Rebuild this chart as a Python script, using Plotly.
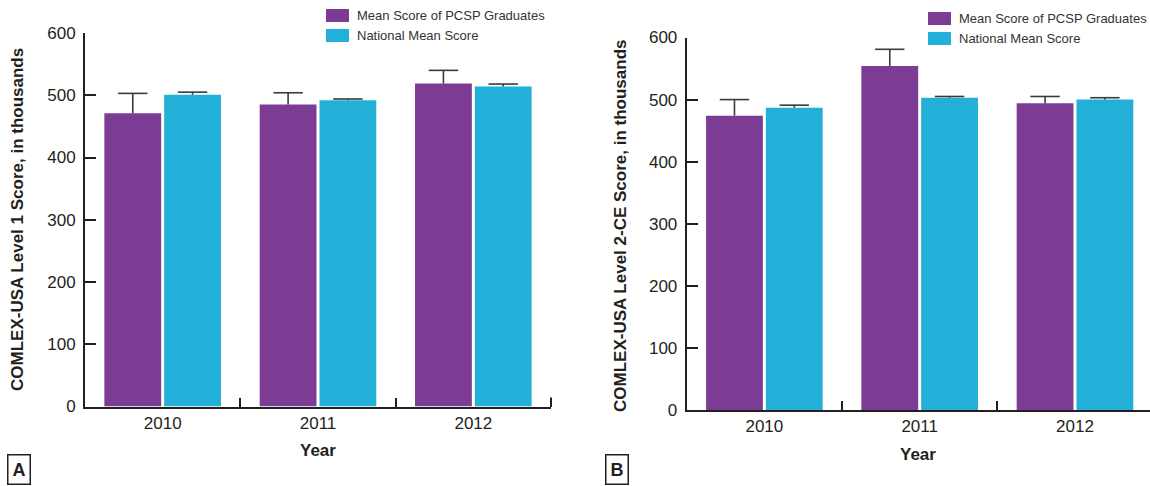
import plotly.graph_objects as go

W, H = 1150, 486

years = ["2010", "2011", "2012"]
l1_pcsp = [471, 485, 519]
l1_pcsp_err = [32, 19, 21]
l1_nat = [501, 492, 514]
l1_nat_err = [4, 2, 4]
l2_pcsp = [474, 554, 494]
l2_pcsp_err = [26, 27, 11]
l2_nat = [487, 503, 500]
l2_nat_err = [4, 2, 3]

series_names = ["Mean Score of PCSP Graduates", "National Mean Score"]
y_titles = ["COMLEX-USA Level 1 Score, in thousands", "COMLEX-USA Level 2-CE Score, in thousands"]
y_ticks = [0, 100, 200, 300, 400, 500, 600]

PURPLE = "#7D3C94"
CYAN = "#23B0D8"
DARK = "#231F20"
ERRC = "#3A3A3A"
FONT = "Liberation Sans, Arial, sans-serif"


def px(x):
    return x / W


def py(y):
    return 1 - y / H


fig = go.Figure()

for xa, ya, p, pe, n, ne in [("x", "y", l1_pcsp, l1_pcsp_err, l1_nat, l1_nat_err),
                             ("x2", "y2", l2_pcsp, l2_pcsp_err, l2_nat, l2_nat_err)]:
    for vals, errs, col, grp in [(p, pe, PURPLE, "a"), (n, ne, CYAN, "b")]:
        fig.add_trace(go.Bar(x=years, y=vals, marker_color=col, marker_line_width=0,
                             offsetgroup=grp,
                             error_y=dict(type="data", symmetric=False, array=errs,
                                          arrayminus=[0] * len(errs), color=ERRC,
                                          thickness=1.6, width=0),
                             xaxis=xa, yaxis=ya, showlegend=False, hoverinfo="skip"))
        fig.add_trace(go.Scatter(x=years, y=[v + e for v, e in zip(vals, errs)],
                                 mode="markers", offsetgroup=grp,
                                 marker=dict(symbol="line-ew", size=21,
                                             line=dict(color=ERRC, width=1.6)),
                                 xaxis=xa, yaxis=ya, showlegend=False, hoverinfo="skip",
                                 cliponaxis=False))

xcommon = dict(type="category", showline=True, linecolor=DARK, linewidth=2,
               ticks="inside", tickson="boundaries", ticklen=9, tickwidth=2, tickcolor=DARK,
               showgrid=False, zeroline=False,
               tickfont=dict(family=FONT, size=17, color=DARK))
ycommon = dict(range=[0, 600], tickvals=y_ticks, showline=True, linecolor=DARK, linewidth=2,
               ticks="inside", ticklen=11, tickwidth=2, tickcolor=DARK,
               showgrid=False, zeroline=False, ticklabelstandoff=4,
               tickfont=dict(family=FONT, size=17, color=DARK))

fig.update_layout(
    width=W, height=H,
    margin=dict(l=0, r=0, t=0, b=0, autoexpand=False),
    paper_bgcolor="white", plot_bgcolor="white",
    barmode="group", bargap=0.23, bargroupgap=0.05,
    scattermode="group", scattergap=0.23,
    xaxis=dict(domain=[px(85), px(551)], anchor="y", range=[-0.5, 2.5], **xcommon),
    yaxis=dict(domain=[py(406.5), py(33)], anchor="x", **ycommon),
    xaxis2=dict(domain=[px(686.7), 1.0], anchor="y2", range=[-0.5, 2.483], **xcommon),
    yaxis2=dict(domain=[py(410), py(37.5)], anchor="x2", **ycommon),
)

annotations = []
shapes = []

# closing tick at the right end of panel A's x axis
shapes.append(dict(type="line", xref="x domain", yref="paper", x0=1, x1=1,
                   y0=py(407), y1=py(397.5), line=dict(color=DARK, width=2)))

for xc, yc, t in [(18, 220, y_titles[0]), (620, 226, y_titles[1])]:
    annotations.append(dict(x=px(xc), y=py(yc), xref="paper", yref="paper", text=t,
                            textangle=-90, showarrow=False, xanchor="center", yanchor="middle",
                            font=dict(family=FONT, size=17, color=DARK, weight="bold")))
for xc, yc in [(318, 450), (918, 454)]:
    annotations.append(dict(x=px(xc), y=py(yc), xref="paper", yref="paper", text="Year",
                            showarrow=False, xanchor="center", yanchor="middle",
                            font=dict(family=FONT, size=17, color=DARK, weight="bold")))

for lx, ly in [(326, 9), (928, 12)]:
    for i, (nm, col) in enumerate(zip(series_names, [PURPLE, CYAN])):
        y0 = ly + i * 20
        shapes.append(dict(type="rect", xref="paper", yref="paper",
                           x0=px(lx), x1=px(lx + 23), y0=py(y0 + 13), y1=py(y0),
                           fillcolor=col, line_width=0))
        annotations.append(dict(x=px(lx + 29), y=py(y0 + 6.5), xref="paper", yref="paper",
                                text=nm, showarrow=False, xanchor="left", yanchor="middle",
                                font=dict(family=FONT, size=13, color="#333333")))

for lab, xc, yc in [("A", 19, 469.5), ("B", 617, 469)]:
    annotations.append(dict(x=px(xc), y=py(yc), xref="paper", yref="paper", text=lab,
                            showarrow=False, xanchor="center", yanchor="middle",
                            bordercolor=DARK, borderwidth=1.5, borderpad=4,
                            font=dict(family=FONT, size=18, color=DARK, weight="bold")))

fig.update_layout(annotations=annotations, shapes=shapes)
fig.write_html("out.html")
